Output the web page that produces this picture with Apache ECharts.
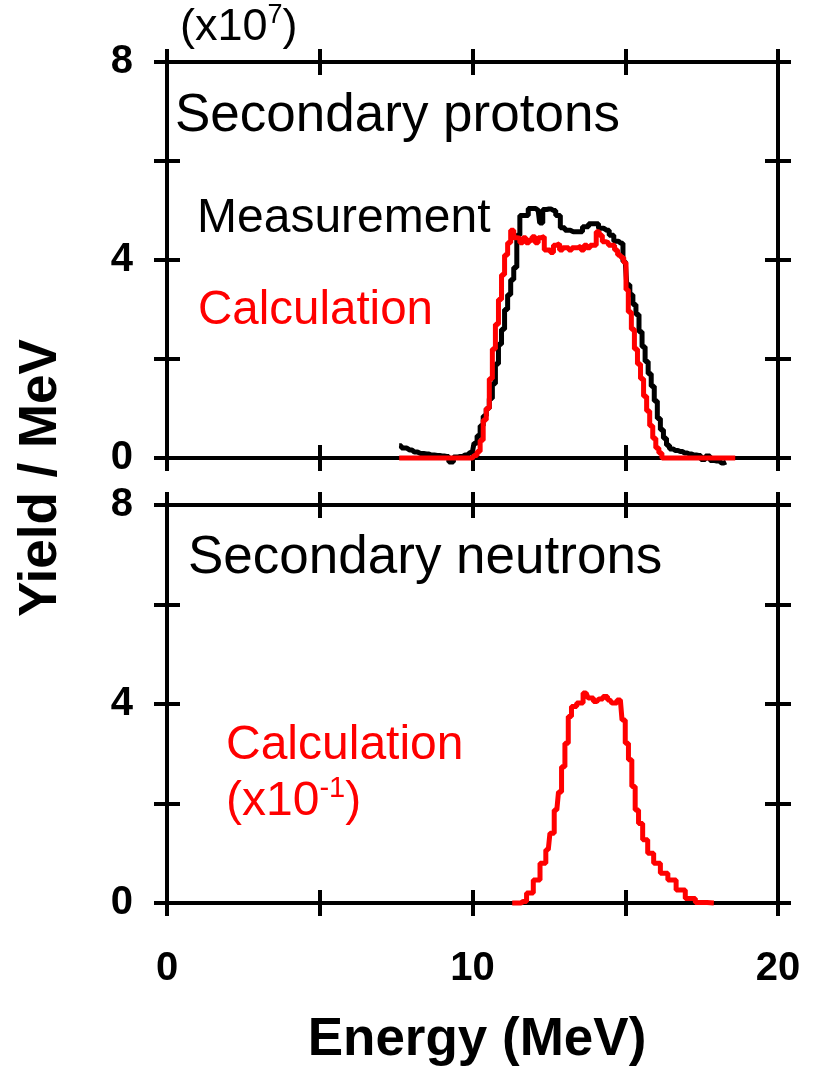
<!DOCTYPE html>
<html><head><meta charset="utf-8">
<script src="https://cdn.jsdelivr.net/npm/echarts@6/dist/echarts.min.js"></script>
<style>html,body{margin:0;padding:0;background:#fff}#c{width:817px;height:1076px}</style>
</head><body><div id="c"></div>
<script>
// Secondary protons: measurement (black)
const measE = [7.6,7.75,7.95,8.1,8.3,8.5,8.65,8.85,9.0,9.15,9.3,9.45,9.6,9.75,9.9,10.0,10.1,10.2,10.3,10.4,10.5,10.6,10.7,10.8,10.9,11.0,11.1,11.2,11.3,11.4,11.5,11.6,11.75,11.9,12.0,12.15,12.25,12.35,12.5,12.65,12.8,12.95,13.1,13.3,13.5,13.7,13.9,14.05,14.2,14.4,14.55,14.7,14.85,15.0,15.1,15.2,15.3,15.4,15.5,15.6,15.7,15.8,15.9,16.0,16.1,16.2,16.3,16.4,16.5,16.65,16.8,16.95,17.1,17.25,17.4,17.55,17.7,17.85,18.0,18.15,18.3];
const measY = [0.25,0.2,0.16,0.12,0.09,0.08,0.06,0.05,0.04,0.03,-0.08,0.02,0.03,0.06,0.1,0.13,0.3,0.45,0.65,0.85,1.0,1.2,1.5,1.9,2.3,2.6,3.0,3.3,3.6,3.85,4.5,4.9,4.9,5.04,5.04,5.0,4.75,5.02,5.03,5.0,4.9,4.65,4.6,4.57,4.57,4.67,4.73,4.73,4.64,4.6,4.5,4.38,4.34,3.97,3.5,3.3,3.1,2.9,2.55,2.25,1.95,1.7,1.45,1.15,0.8,0.57,0.4,0.26,0.18,0.15,0.13,0.1,0.08,0.06,0.05,-0.03,0.04,-0.05,-0.06,-0.1,-0.08];
// Secondary protons: calculation (red)
const calcPE = [7.6,8.0,8.5,9.0,9.5,10.0,10.1,10.2,10.3,10.4,10.5,10.6,10.7,10.8,10.9,11.0,11.1,11.2,11.3,11.4,11.5,11.6,11.7,11.8,11.9,12.0,12.1,12.2,12.3,12.4,12.5,12.6,12.7,12.8,12.9,13.0,13.1,13.2,13.3,13.4,13.5,13.6,13.7,13.8,13.9,14.0,14.1,14.2,14.3,14.4,14.5,14.6,14.7,14.8,14.9,15.0,15.05,15.15,15.25,15.35,15.45,15.55,15.65,15.75,15.85,15.95,16.05,16.15,16.25,17.0,18.0,18.6];
const calcPY = [0,0,0,0,0,0,0.05,0.13,0.36,0.77,1.0,1.6,2.2,2.7,3.2,3.7,4.1,4.35,4.6,4.45,4.44,4.35,4.45,4.35,4.4,4.47,4.35,4.45,4.47,4.2,4.2,4.15,4.3,4.33,4.2,4.25,4.25,4.2,4.25,4.25,4.28,4.2,4.3,4.25,4.3,4.3,4.57,4.5,4.37,4.35,4.3,4.3,4.2,4.1,4.05,3.95,3.4,2.95,2.6,2.2,1.9,1.6,1.25,0.95,0.65,0.4,0.2,0.1,0,0,0,0];
// Secondary neutrons: calculation x10^-1 (red)
const calcNE = [11.3,11.5,11.66,11.88,12.1,12.32,12.48,12.59,12.76,12.87,12.96,13.09,13.18,13.3,13.52,13.72,13.85,14.07,14.2,14.34,14.5,14.62,14.84,14.95,15.05,15.16,15.27,15.38,15.49,15.65,15.82,16.04,16.26,16.53,16.8,17.13,17.46,17.9];
const calcNY = [0,0,0.03,0.2,0.46,0.8,1.07,1.4,1.87,2.23,2.74,3.21,3.75,3.95,4.02,4.22,4.12,4.05,4.1,4.15,4.08,4.02,4.08,3.68,3.21,2.88,2.34,1.87,1.6,1.27,1.0,0.8,0.6,0.46,0.26,0.09,0.01,0];
// Tick labels
const xTickLabels = [0, 10, 20];
const yTickLabels = [0, 4, 8];

const FONT = 'Liberation Sans, Arial, Helvetica, sans-serif';
const pairs = (xs, ys) => xs.map((x, i) => [x, ys[i]]);

const axLine = {show: true, onZero: false, lineStyle: {color: '#000', width: 4}};
function xAxes(gi, labels) {
  const base = (pos, inside, showLabel) => ({
    type: 'value', gridIndex: gi, position: pos, min: 0, max: 20, interval: 5,
    axisLine: axLine, splitLine: {show: false},
    axisTick: {show: true, inside: inside, length: 13, lineStyle: {color: '#000', width: 4}},
    axisLabel: {show: showLabel, margin: 46, color: '#000', fontFamily: FONT, fontWeight: 'bold', fontSize: 40,
      formatter: v => xTickLabels.includes(v) ? String(v) : ''}
  });
  return [base('bottom', false, labels), base('bottom', true, false), base('top', false, false), base('top', true, false)];
}
function yAxes(gi) {
  const base = (pos, inside, showLabel) => ({
    type: 'value', gridIndex: gi, position: pos, min: 0, max: 8, interval: 2,
    axisLine: axLine, splitLine: {show: false},
    axisTick: {show: true, inside: inside, length: 13, lineStyle: {color: '#000', width: 4}},
    axisLabel: {show: showLabel, margin: 34, color: '#000', fontFamily: FONT, fontWeight: 'bold', fontSize: 40,
      formatter: v => yTickLabels.includes(v) ? String(v) : ''}
  });
  return [base('left', false, true), base('left', true, false), base('right', false, false), base('right', true, false)];
}

function txt(x, y, text, size, color, extra) {
  return Object.assign({type: 'text', x: x, y: y, z: 10, style: {
    text: text, fill: color || '#000', font: (extra && extra.bold ? 'bold ' : '') + size + 'px ' + FONT,
    textAlign: (extra && extra.align) || 'left', align: (extra && extra.align) || 'left',
    textVerticalAlign: 'middle', verticalAlign: 'middle'
  }}, extra && extra.el ? extra.el : {});
}
function supTxt(x, y, base, sup, size, color) {
  return {type: 'text', x: x, y: y, z: 10, style: {
    text: '{a|(x10}{b|' + sup + '}{a|)}', align: 'left', textAlign: 'left', verticalAlign: 'middle', textVerticalAlign: 'middle',
    rich: {
      a: {fontFamily: FONT, fontSize: size, color: color, fill: color, lineHeight: size * 1.15},
      b: {fontFamily: FONT, fontSize: Math.round(size * 0.6), color: color, fill: color, verticalAlign: 'top', lineHeight: size * 1.15, padding: [0, 0, Math.round(size * 0.35), 0]}
    }
  }};
}

const chart = echarts.init(document.getElementById('c'), null, {renderer: 'canvas'});
chart.setOption({
  backgroundColor: '#fff',
  animation: false,
  grid: [
    {left: 167, top: 62, width: 611, height: 396},
    {left: 167, top: 505, width: 611, height: 398}
  ],
  xAxis: [...xAxes(0, false), ...xAxes(1, true)],
  yAxis: [...yAxes(0), ...yAxes(1)],
  series: [
    {type: 'line', name: 'Measurement', xAxisIndex: 0, yAxisIndex: 0, step: 'middle', symbol: 'none', clip: false,
      lineStyle: {color: '#000', width: 5}, data: pairs(measE, measY), z: 3},
    {type: 'line', name: 'Calculation', xAxisIndex: 0, yAxisIndex: 0, step: 'middle', symbol: 'none', clip: false,
      lineStyle: {color: '#ff0000', width: 5}, data: pairs(calcPE, calcPY), z: 4},
    {type: 'line', name: 'Calculation (x10^-1)', xAxisIndex: 4, yAxisIndex: 4, step: 'middle', symbol: 'none', clip: false,
      lineStyle: {color: '#ff0000', width: 5}, data: pairs(calcNE, calcNY), z: 4}
  ],
  graphic: [
    supTxt(180, 28, '(x10', '7', 45, '#000'),
    txt(175, 116, 'Secondary protons', 53, '#000'),
    txt(197, 219, 'Measurement', 48, '#000'),
    txt(198, 311, 'Calculation', 47.5, '#ff0000'),
    txt(188, 558, 'Secondary neutrons', 53, '#000'),
    txt(226, 746, 'Calculation', 48, '#ff0000'),
    supTxt(226, 802, '(x10', '-1', 48, '#ff0000'),
    txt(477, 1040, 'Energy (MeV)', 53, '#000', {bold: true, align: 'center'}),
    {type: 'text', x: 41, y: 478, rotation: Math.PI / 2, z: 10, style: {
      text: 'Yield / MeV', fill: '#000', font: 'bold 53px ' + FONT,
      align: 'center', textAlign: 'center', verticalAlign: 'middle', textVerticalAlign: 'middle'}}
  ]
});
</script></body></html>
